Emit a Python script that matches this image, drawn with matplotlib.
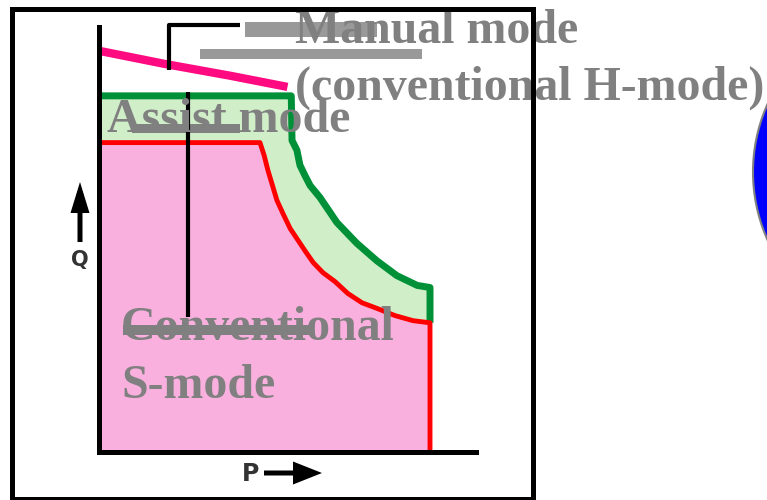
import matplotlib
matplotlib.use("Agg")
import matplotlib.pyplot as plt
from matplotlib.patches import Rectangle, Circle, FancyArrow

# operating region boundaries, P (x) vs Q (y), arbitrary units 0..10
P_red = [0, 4.27, 4.38, 4.48, 4.72, 4.88, 5.07, 5.28, 5.46, 5.68, 5.94, 6.26, 6.60, 6.98, 7.40, 7.85, 8.33, 8.78, 8.78]
Q_red = [7.28, 7.28, 6.98, 6.63, 5.92, 5.61, 5.26, 4.98, 4.74, 4.46, 4.22, 4.01, 3.73, 3.51, 3.37, 3.21, 3.09, 3.04, 0]

P_green = [0, 5.10, 5.12, 5.25, 5.33, 5.46, 5.60, 5.86, 6.31, 6.84, 7.37, 7.90, 8.44, 8.78, 8.78]
Q_green = [8.38, 8.38, 7.33, 7.10, 6.75, 6.51, 6.27, 5.99, 5.40, 4.91, 4.50, 4.15, 3.92, 3.87, 3.04]

P_manual = [0, 1.75, 3.5, 5.0]
Q_manual = [9.44, 9.13, 8.85, 8.59]

labels = {
    "manual": ["Manual mode", "(conventional H-mode)"],
    "assist": "Assist mode",
    "conv": ["Conventional", "S-mode"],
}

W, H = 767, 500
fig = plt.figure(figsize=(W / 100, H / 100), dpi=100)

# main P-Q axes (pixel box: x 99..476, y 27..452)
ax = fig.add_axes([99 / W, (H - 452) / H, 377 / W, 425 / H])
ax.set_xlim(0, 10)
ax.set_ylim(0, 10)
ax.fill(P_green + [8.78, 0], Q_green + [0, 0], color="#D0EEC8", lw=0, zorder=1)
ax.plot(P_green, Q_green, color="#009038", lw=5, solid_capstyle="butt", zorder=3)
ax.fill(P_red + [0], Q_red + [0], color="#FAB0DE", lw=0, zorder=2)
ax.plot(P_red, Q_red, color="#FF0000", lw=3.5, solid_capstyle="butt", zorder=4)
ax.plot(P_manual, Q_manual, color="#FF0A80", lw=6, solid_capstyle="butt", zorder=4)
for s in ["top", "right"]:
    ax.spines[s].set_visible(False)
for s in ["left", "bottom"]:
    ax.spines[s].set_linewidth(3.6)
    ax.spines[s].set_zorder(6)
ax.set_xticks([])
ax.set_yticks([])
ax.patch.set_alpha(0)

# overlay in pixel coords for frame, labels, decorations
ov = fig.add_axes([0, 0, 1, 1], zorder=5)
ov.set_xlim(0, W)
ov.set_ylim(H, 0)
ov.axis("off")
ov.patch.set_alpha(0)

ov.add_patch(Circle((919, 172), 166, fc="#0000FF", ec="#808080", lw=1.5))

gray = "#999999"
ov.add_patch(Rectangle((245, 22), 132, 15, color=gray, lw=0))
ov.add_patch(Rectangle((200, 49), 222, 10, color=gray, lw=0))
ov.add_patch(Rectangle((132, 124), 108, 9, color="#808080", lw=0))
ov.add_patch(Rectangle((123, 325), 190, 10, color="#808080", lw=0))

ov.plot([168.5, 168.5, 240], [70, 24.5, 24.5], color="k", lw=3, solid_capstyle="butt")
ov.plot([188, 188], [92, 317], color="k", lw=3, solid_capstyle="butt")

tkw = dict(family="Liberation Serif", fontweight="bold", fontsize=34.5,
           color="#808080", va="baseline", ha="left")
ov.text(295, 43, labels["manual"][0], **tkw)
ov.text(295, 100, labels["manual"][1], **tkw)
ov.text(107, 132, labels["assist"], **tkw)
ov.text(121, 340, labels["conv"][0], **tkw)
ov.text(121, 398, labels["conv"][1], **tkw)

# axis labels with crude arrows
ov.add_patch(FancyArrow(80, 242, 0, -60, width=5, head_width=19, head_length=31,
                        length_includes_head=True, color="k", lw=0))
ov.text(80, 260, "Q", ha="center", va="center", fontsize=15, fontweight="bold", color="#333333")
ov.add_patch(FancyArrow(264, 473, 58, 0, width=5, head_width=23, head_length=29,
                        length_includes_head=True, color="k", lw=0))
ov.text(251, 474, "P", ha="center", va="center", fontsize=17, fontweight="bold", color="#333333")

ov.add_patch(Rectangle((11.5, 8.5), 521, 490, fill=False, ec="k", lw=3.6, zorder=10))

fig.savefig("out.png", dpi=100)
